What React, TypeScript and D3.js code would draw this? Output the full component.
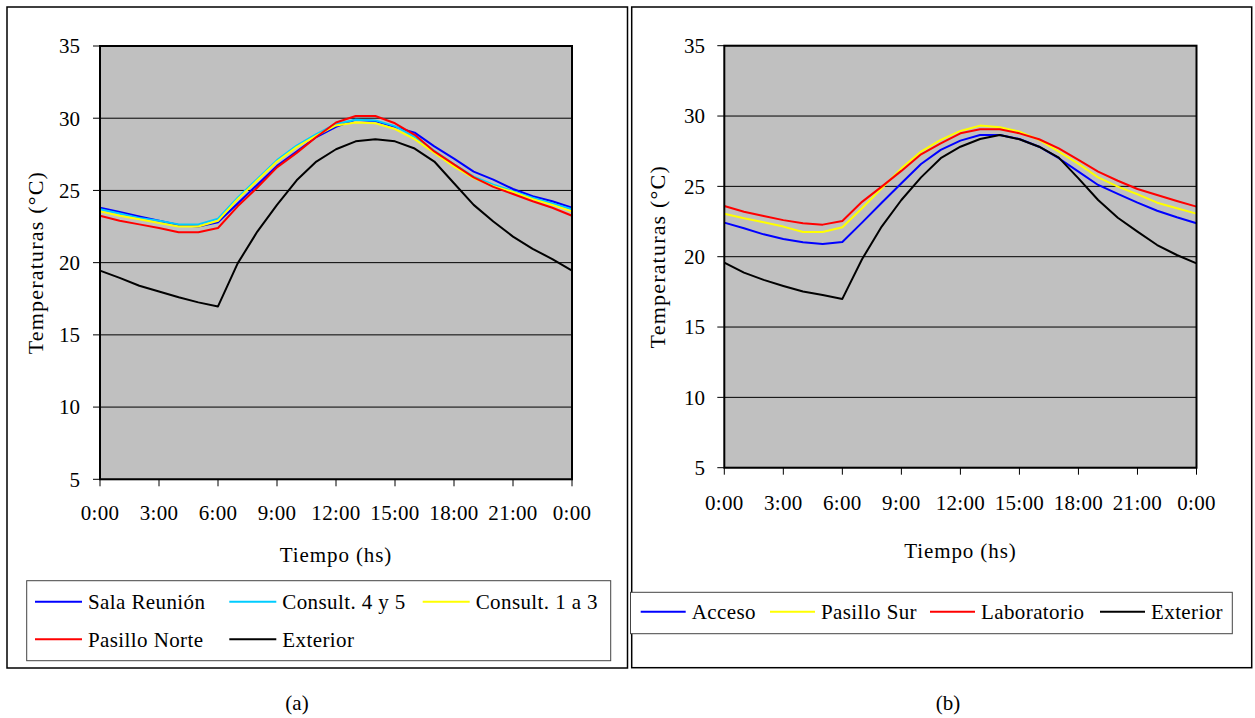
import * as d3 from "d3";

// hourly readings, 0:00 to 0:00 of the next day
const hours = [0, 1, 2, 3, 4, 5, 6, 7, 8, 9, 10, 11, 12, 13, 14, 15, 16, 17, 18, 19, 20, 21, 22, 23, 24];
const yTicks = [5, 10, 15, 20, 25, 30, 35];
const xTickHours = [0, 3, 6, 9, 12, 15, 18, 21, 24];
const xTickLabels = ["0:00", "3:00", "6:00", "9:00", "12:00", "15:00", "18:00", "21:00", "0:00"];

// (a)
const salaReunion = [23.8, 23.5, 23.2, 22.9, 22.6, 22.5, 22.8, 24.1, 25.4, 26.7, 27.7, 28.7, 29.4, 29.9, 29.8, 29.4, 29.0, 28.05, 27.2, 26.3, 25.75, 25.1, 24.6, 24.25, 23.8];
const consult45 = [23.7, 23.4, 23.1, 22.9, 22.65, 22.65, 23.05, 24.5, 25.8, 27.1, 28.1, 28.9, 29.6, 29.9, 29.85, 29.45, 28.7, 27.75, 26.8, 25.95, 25.4, 24.95, 24.5, 24.1, 23.7];
const consult13 = [23.55, 23.25, 23.0, 22.75, 22.5, 22.5, 22.9, 24.4, 25.7, 27.0, 28.0, 28.8, 29.5, 29.7, 29.65, 29.25, 28.55, 27.6, 26.65, 25.85, 25.3, 24.9, 24.4, 24.0, 23.55];
const pasilloNorte = [23.25, 22.9, 22.65, 22.4, 22.1, 22.1, 22.4, 23.9, 25.2, 26.6, 27.6, 28.7, 29.7, 30.15, 30.15, 29.65, 28.85, 27.7, 26.8, 25.9, 25.25, 24.75, 24.25, 23.8, 23.25];
const exteriorA = [19.45, 18.95, 18.4, 18.0, 17.6, 17.25, 16.97, 19.95, 22.15, 24.0, 25.7, 27.0, 27.85, 28.4, 28.55, 28.4, 27.9, 27.0, 25.5, 24.0, 22.85, 21.8, 20.95, 20.25, 19.45];

// (b)
const acceso = [22.42, 22.02, 21.59, 21.26, 21.02, 20.9, 21.05, 22.42, 23.84, 25.22, 26.59, 27.59, 28.25, 28.65, 28.65, 28.37, 27.82, 27.0, 26.05, 25.1, 24.46, 23.84, 23.27, 22.8, 22.38];
const pasilloSur = [23.06, 22.73, 22.45, 22.14, 21.76, 21.76, 22.09, 23.44, 24.86, 26.28, 27.47, 28.3, 28.94, 29.32, 29.2, 28.89, 28.3, 27.47, 26.6, 25.64, 24.98, 24.44, 23.84, 23.44, 23.06];
const laboratorio = [23.61, 23.2, 22.9, 22.6, 22.38, 22.28, 22.54, 23.9, 24.98, 26.1, 27.28, 28.06, 28.77, 29.06, 29.06, 28.77, 28.35, 27.7, 26.88, 26.05, 25.4, 24.81, 24.39, 23.96, 23.56];
const exteriorB = [19.58, 18.87, 18.35, 17.92, 17.52, 17.28, 17.0, 19.82, 22.14, 24.03, 25.64, 27.0, 27.82, 28.37, 28.65, 28.35, 27.82, 27.04, 25.57, 24.03, 22.77, 21.78, 20.83, 20.12, 19.53];

const FONT = "'Liberation Serif', 'Times New Roman', serif";
const FS = 21;

type Series = { name: string; color: string; values: number[] };

const seriesA: Series[] = [
  { name: "Sala Reunión", color: "#0000ff", values: salaReunion },
  { name: "Consult. 4 y 5", color: "#00ccff", values: consult45 },
  { name: "Consult. 1 a 3", color: "#ffff00", values: consult13 },
  { name: "Pasillo Norte", color: "#ff0000", values: pasilloNorte },
  { name: "Exterior", color: "#000000", values: exteriorA },
];

const seriesB: Series[] = [
  { name: "Acceso", color: "#0000ff", values: acceso },
  { name: "Pasillo Sur", color: "#ffff00", values: pasilloSur },
  { name: "Laboratorio", color: "#ff0000", values: laboratorio },
  { name: "Exterior", color: "#000000", values: exteriorB },
];

type Layout = {
  frame: [number, number, number, number];
  plot: { x0: number; x1: number; y0: number; y1: number };
  yLabelX: number;
  xLabelY: number;
  xTitleY: number;
  yTitleX: number;
  legendBox: [number, number, number, number];
  legendPos: [number, number][];
  legendLine: number;
  caption: [string, number, number];
};

const layoutA: Layout = {
  frame: [7, 7, 620.5, 661],
  plot: { x0: 100, x1: 572, y0: 46, y1: 479.3 },
  yLabelX: 80,
  xLabelY: 520,
  xTitleY: 562,
  yTitleX: 35,
  legendBox: [26.7, 580.7, 584, 80],
  legendPos: [[35, 601.7], [229.3, 601.7], [422.7, 601.7], [35, 639.3], [229.3, 639.3]],
  legendLine: 47,
  caption: ["(a)", 297, 703],
};

const layoutB: Layout = {
  frame: [631.7, 7, 620, 660.7],
  plot: { x0: 724.3, x1: 1196.5, y0: 45.7, y1: 467.7 },
  yLabelX: 705,
  xLabelY: 510,
  xTitleY: 557.7,
  yTitleX: 657,
  legendBox: [630.5, 592.3, 601.8, 41.4],
  legendPos: [[640.7, 611.7], [770, 611.7], [930, 611.7], [1100, 611.7]],
  legendLine: 45,
  caption: ["(b)", 948, 703],
};

function Panel({ series, L }: { series: Series[]; L: Layout }) {
  const { plot } = L;
  const x = d3.scaleLinear().domain([0, 24]).range([plot.x0, plot.x1]);
  const y = d3.scaleLinear().domain([5, 35]).range([plot.y1, plot.y0]);
  const line = (vals: number[]) =>
    d3.line<number>().x((_, i) => x(hours[i])).y((d) => y(d))(vals) || "";
  const cy = (plot.y0 + plot.y1) / 2;
  const cx = (plot.x0 + plot.x1) / 2;

  return (
    <g fontFamily={FONT} fontSize={FS} fill="#000">
      <rect x={L.frame[0]} y={L.frame[1]} width={L.frame[2]} height={L.frame[3]} fill="#fff" stroke="#000" strokeWidth={1.5} />
      <rect x={plot.x0} y={plot.y0} width={plot.x1 - plot.x0} height={plot.y1 - plot.y0} fill="#c0c0c0" />
      {yTicks.map((t) => (
        <g key={t}>
          <line x1={plot.x0} x2={plot.x1} y1={y(t)} y2={y(t)} stroke="#000" strokeWidth={1} />
          <line x1={plot.x0 - 7} x2={plot.x0} y1={y(t)} y2={y(t)} stroke="#000" strokeWidth={1} />
          <text x={L.yLabelX} y={y(t)} dy="0.35em" textAnchor="end">{t}</text>
        </g>
      ))}
      {xTickHours.map((h, i) => (
        <g key={i}>
          <line x1={x(h)} x2={x(h)} y1={plot.y1} y2={plot.y1 + 7} stroke="#000" strokeWidth={1} />
          <text x={x(h)} y={L.xLabelY} textAnchor="middle" letterSpacing={0.3}>{xTickLabels[i]}</text>
        </g>
      ))}
      {series.map((s) => (
        <path key={s.name} d={line(s.values)} fill="none" stroke={s.color} strokeWidth={2} strokeLinejoin="round" />
      ))}
      <rect x={plot.x0} y={plot.y0} width={plot.x1 - plot.x0} height={plot.y1 - plot.y0} fill="none" stroke="#000" strokeWidth={2} />
      <text x={cx} y={L.xTitleY} textAnchor="middle" letterSpacing={0.9}>Tiempo (hs)</text>
      <text transform={`translate(${L.yTitleX},${cy}) rotate(-90)`} dy="0.35em" textAnchor="middle" fontSize={22} letterSpacing={1.2}>
        Temperaturas (°C)
      </text>
      <rect x={L.legendBox[0]} y={L.legendBox[1]} width={L.legendBox[2]} height={L.legendBox[3]} fill="#fff" stroke="#444" strokeWidth={1} />
      {series.map((s, i) => {
        const [lx, ly] = L.legendPos[i];
        return (
          <g key={s.name}>
            <line x1={lx} x2={lx + L.legendLine} y1={ly} y2={ly} stroke={s.color} strokeWidth={2} />
            <text x={lx + L.legendLine + 6} y={ly} dy="0.35em" letterSpacing={0.4}>{s.name}</text>
          </g>
        );
      })}
      <text x={L.caption[1]} y={L.caption[2]} dy="0.35em" textAnchor="middle">{L.caption[0]}</text>
    </g>
  );
}

export default function App() {
  return (
    <svg width={1255} height={718} style={{ position: "absolute", left: 0, top: 0, background: "#fff" }}>
      <Panel series={seriesA} L={layoutA} />
      <Panel series={seriesB} L={layoutB} />
    </svg>
  );
}
